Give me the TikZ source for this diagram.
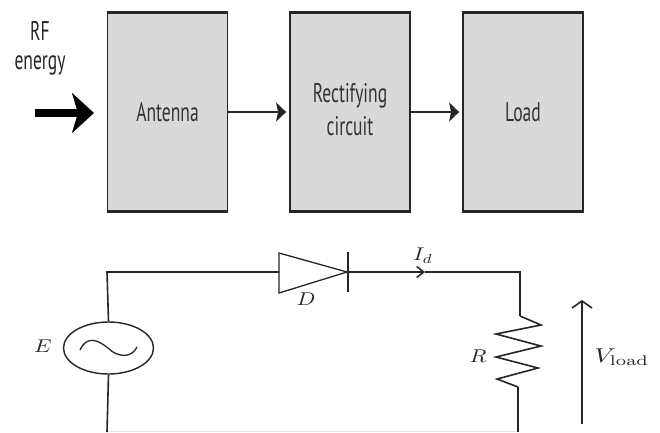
\documentclass[tikz,border=0pt]{standalone}
\usepackage[no-math]{fontspec}
\setmainfont{PT Sans}
\usetikzlibrary{arrows.meta,shapes.geometric}
\definecolor{boxfill}{HTML}{D9D9D9}
\definecolor{ink}{HTML}{262626}
\definecolor{croppedwire}{HTML}{E6E6E6}
\newcommand{\boxtxt}[1]{\scalebox{0.65}[1]{\fontsize{27}{33}\selectfont #1}}
\newcommand{\mathlab}[1]{\scalebox{2.2}[1.85]{$#1$}}
\tikzset{
  x=1pt,y=-1pt,
  blockbox/.style={draw=ink,fill=boxfill,line width=1.8pt,minimum width=120pt,minimum height=198pt,inner sep=0pt,anchor=center,text=black!80},
  edgebar/.style={draw=ink,line width=3pt},
  flow/.style={draw=black!85,line width=2pt,-{Stealth[length=10pt,width=19pt,inset=2pt]},shorten >=3pt},
  wire/.style={draw=ink,line width=1.6pt},
  labeltxt/.style={inner sep=0pt,text=black!85},
}
\begin{document}
\begin{tikzpicture}
\useasboundingbox (0,0) rectangle (660,432);
\fill[white] (0,0) rectangle (660,432);
% blocks
\node[blockbox] (ant) at (167.5,112) {\boxtxt{Antenna}};
\node[blockbox] (rect) at (350,112) {\raisebox{-4pt}{\boxtxt{\begin{tabular}{@{}c@{}}Rectifying\\circuit\end{tabular}}}};
\node[blockbox] (load) at (523,112) {\boxtxt{Load}};
\foreach \b in {ant,rect,load}{
  \draw[edgebar] (\b.north west) -- (\b.north east);
  \draw[edgebar] (\b.south west) -- (\b.south east);
}
\draw[flow] (ant.east) -- (rect.west);
\draw[flow] (rect.east) -- (load.west);
% RF input
\node[labeltxt] (rf) at (40,31) {\boxtxt{RF}};
\node[labeltxt] (energy) at (40,65) {\boxtxt{energy}};
\coordinate (rfs) at (35,113);
\coordinate (rfe) at (94,113);
\draw[line width=8pt,black,-{Stealth[length=22pt,width=40pt,inset=6pt]}] (rfs) -- (rfe);
% circuit
\node[draw=ink,line width=1.4pt,ellipse,minimum width=90pt,minimum height=52pt,inner sep=0pt] (src) at (108.5,348) {};
\draw[ink,line width=1.3pt] (80,350) .. controls (87,335) and (98,340) .. (108,348) .. controls (118,358) and (132,358) .. (137,347);
\coordinate (tl) at (107,272);
\coordinate (bl) at (107,432);
\coordinate (an) at (279,272);
\coordinate (ca) at (348,272);
\coordinate (tr) at (520,272);
\coordinate (mid) at (425,272);
\coordinate (rt) at (520,316);
\coordinate (rb) at (518,387);
\coordinate (br) at (518,432);
\draw[draw=croppedwire,line width=1pt] (107,431.5) -- (518,431.5);
\draw[wire] (src.north) -- (tl) -- (an);
\draw[wire] (src.south) -- (bl);
\draw[wire] (br) -- (rb);
\draw[draw=ink,line width=1.3pt,line join=miter] (279,253) -- (347,272) -- (279,293) -- cycle;
\draw[wire] (348,252) -- (348,292);
\draw[wire,-{Straight Barb[length=7pt,width=11pt]}] (ca) -- (mid);
\draw[wire] (mid) -- (tr) -- (rt);
\draw[wire,line join=miter] (rt) -- (541,325) -- (496,334) -- (541,346) -- (496,357) -- (538,368) -- (497,379) -- (rb);
% voltage arrow
\coordinate (vb) at (582,424);
\coordinate (vt) at (582,300);
\draw[wire,-{Straight Barb[length=7pt,width=20pt]}] (vb) -- (vt);
% labels
\node[labeltxt] (e) at (43,346) {\mathlab{E}};
\node[labeltxt] (d) at (306,299) {\mathlab{D}};
\node[labeltxt] (r) at (478,356) {\mathlab{R}};
\node[labeltxt] (id) at (423,256) {\mathlab{I_d}};
\node[labeltxt] (v) at (622,357) {\scalebox{2.6}[2]{$V_{\mathrm{load}}$}};
\end{tikzpicture}
\end{document}
